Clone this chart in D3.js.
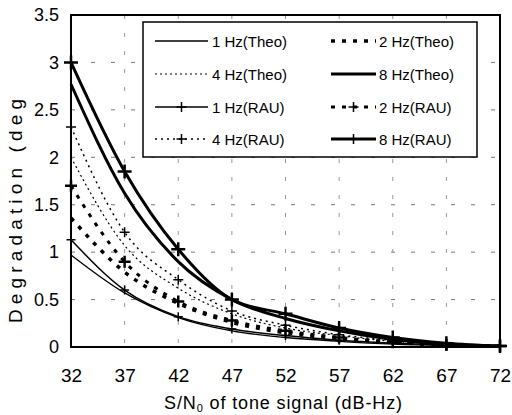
<!DOCTYPE html>
<html>
<head>
<meta charset="utf-8">
<script src="https://cdn.jsdelivr.net/npm/d3@7"></script>
<style>
  body { margin:0; background:#fff; }
  svg text { font-family: "Liberation Sans", Arial, sans-serif; fill:#000; }
</style>
</head>
<body>
<svg id="chart" width="512" height="415"></svg>
<script>
// S/N0 values (dB-Hz)
var snr = [32, 37, 42, 47, 52, 57, 62, 67, 72];

// degradation (deg)
var theo1 = [0.97, 0.57, 0.31, 0.17, 0.10, 0.06, 0.03, 0.015, 0.01];
var theo2 = [1.36, 0.79, 0.46, 0.26, 0.15, 0.09, 0.05, 0.02, 0.01];
var theo4 = [2.00, 1.07, 0.62, 0.35, 0.20, 0.12, 0.06, 0.03, 0.01];
var theo8 = [2.77, 1.62, 0.90, 0.50, 0.30, 0.17, 0.08, 0.03, 0.01];
var rau1  = [1.13, 0.60, 0.32, 0.19, 0.12, 0.07, 0.04, 0.02, 0.01];
var rau2  = [1.70, 0.90, 0.48, 0.28, 0.17, 0.10, 0.05, 0.02, 0.01];
var rau4  = [2.32, 1.21, 0.71, 0.38, 0.23, 0.13, 0.07, 0.03, 0.01];
var rau8  = [3.00, 1.85, 1.03, 0.50, 0.35, 0.20, 0.10, 0.04, 0.01];

var yTicks = [0, 0.5, 1, 1.5, 2, 2.5, 3, 3.5];

var series = [
  {name:"1 Hz(Theo)", values:theo1, width:1.3, dash:null,  marker:0},
  {name:"2 Hz(Theo)", values:theo2, width:3.5, dash:"4,7", marker:0},
  {name:"4 Hz(Theo)", values:theo4, width:1.2, dash:"2,3", marker:0},
  {name:"8 Hz(Theo)", values:theo8, width:3,   dash:null,  marker:0},
  {name:"1 Hz(RAU)",  values:rau1,  width:1.5, dash:null,  marker:9},
  {name:"2 Hz(RAU)",  values:rau2,  width:3,   dash:"4,7", marker:12},
  {name:"4 Hz(RAU)",  values:rau4,  width:1.5, dash:"2,4", marker:10},
  {name:"8 Hz(RAU)",  values:rau8,  width:3,   dash:null,  marker:14}
];

var svg = d3.select("#chart");
var pLeft = 71, pRight = 500, pTop = 15, pBottom = 347;

var x = d3.scaleLinear().domain([32, 72]).range([pLeft, pRight]);
var y = d3.scaleLinear().domain([0, 3.5]).range([pBottom, pTop]);

// grid
var grid = svg.append("g").attr("class","grid");
grid.selectAll(".hg")
    .data(yTicks.filter(function(d){ return d > 0 && d < 3.5; }))
    .enter().append("line")
    .attr("x1", pLeft).attr("x2", pRight)
    .attr("y1", function(d){ return y(d); })
    .attr("y2", function(d){ return y(d); })
    .attr("stroke", "#777").attr("stroke-width", 1)
    .attr("stroke-dasharray", "4,16");
grid.selectAll(".vg")
    .data(snr.slice(1, -1))
    .enter().append("line")
    .attr("y1", pTop).attr("y2", pBottom)
    .attr("x1", function(d){ return x(d); })
    .attr("x2", function(d){ return x(d); })
    .attr("stroke", "#999").attr("stroke-width", 1)
    .attr("stroke-dasharray", "4,14");

// axes (labels only)
var xAxis = d3.axisBottom(x).tickValues(snr).tickSize(0).tickPadding(22);
svg.append("g")
   .attr("transform", "translate(0," + pBottom + ")")
   .call(xAxis)
   .call(function(g){ g.select(".domain").remove(); })
   .selectAll("text").style("font-size", "19px")
   .style("font-family", "Liberation Sans, Arial, sans-serif");

var yAxis = d3.axisLeft(y).tickValues(yTicks).tickSize(0).tickPadding(12)
              .tickFormat(function(d){ return String(d); });
svg.append("g")
   .attr("transform", "translate(" + pLeft + ",0)")
   .call(yAxis)
   .call(function(g){ g.select(".domain").remove(); })
   .selectAll("text").style("font-size", "18px")
   .style("font-family", "Liberation Sans, Arial, sans-serif");

// lines
var line = d3.line()
  .x(function(d, i){ return x(snr[i]); })
  .y(function(d){ return y(d); })
  .curve(d3.curveMonotoneX);

var plot = svg.append("g").attr("class","lines");
series.forEach(function(s){
  plot.append("path")
      .attr("d", line(s.values))
      .attr("fill", "none")
      .attr("stroke", "#000")
      .attr("stroke-width", s.width)
      .attr("stroke-dasharray", s.dash);
  if (s.marker){
    var m = s.marker / 2;
    plot.selectAll(null).data(s.values).enter().append("path")
        .attr("d", function(d, i){
          var px = x(snr[i]), py = y(d);
          return "M" + (px - m) + "," + py + "H" + (px + m) +
                 "M" + px + "," + (py - m) + "V" + (py + m);
        })
        .attr("stroke", "#000")
        .attr("stroke-width", s.width > 2 ? 2.5 : 1.5);
  }
});

// frame
svg.append("rect")
   .attr("x", pLeft).attr("y", pTop)
   .attr("width", pRight - pLeft).attr("height", pBottom - pTop)
   .attr("fill", "none").attr("stroke", "#000").attr("stroke-width", 2);

// legend
var legend = svg.append("g").attr("class","legend");
legend.append("rect")
      .attr("x", 143).attr("y", 22).attr("width", 334).attr("height", 135)
      .attr("fill", "#fff").attr("stroke", "#000").attr("stroke-width", 1.5);

var rowY = [41, 74, 107, 139];
var cols = [{x1:155, x2:208, tx:212}, {x1:331, x2:376, tx:379}];
series.forEach(function(s, i){
  // order: 1,2 / 4,8 theo, then 1,2 / 4,8 RAU
  var row = Math.floor(i / 2);
  var col = cols[i % 2];
  var ly = rowY[row];
  legend.append("line")
        .attr("x1", col.x1).attr("x2", col.x2)
        .attr("y1", ly).attr("y2", ly)
        .attr("stroke", "#000")
        .attr("stroke-width", s.width)
        .attr("stroke-dasharray", s.dash);
  if (s.marker){
    var mx = (col.x1 + col.x2) / 2, m = 5;
    legend.append("path")
          .attr("d", "M" + (mx - m) + "," + ly + "H" + (mx + m) +
                     "M" + mx + "," + (ly - m) + "V" + (ly + m))
          .attr("stroke", "#000").attr("stroke-width", 1.5);
  }
  legend.append("text")
        .attr("x", col.tx).attr("y", ly + 5.5)
        .style("font-size", "15px")
        .text(s.name);
});

// axis titles
svg.append("text")
   .attr("transform", "translate(22,211) rotate(-90)")
   .attr("text-anchor", "middle")
   .attr("textLength", 224)
   .attr("lengthAdjust", "spacing")
   .style("font-size", "19px")
   .text("Degradation (deg");

var xt = svg.append("text")
   .attr("x", 283).attr("y", 409)
   .attr("text-anchor", "middle")
   .attr("textLength", 238)
   .attr("lengthAdjust", "spacing")
   .style("font-size", "18px");
xt.append("tspan").text("S/N");
xt.append("tspan").attr("dy", 3).style("font-size", "11px").text("0");
xt.append("tspan").attr("dy", -3).text(" of tone signal (dB-Hz)");
</script>
</body>
</html>
